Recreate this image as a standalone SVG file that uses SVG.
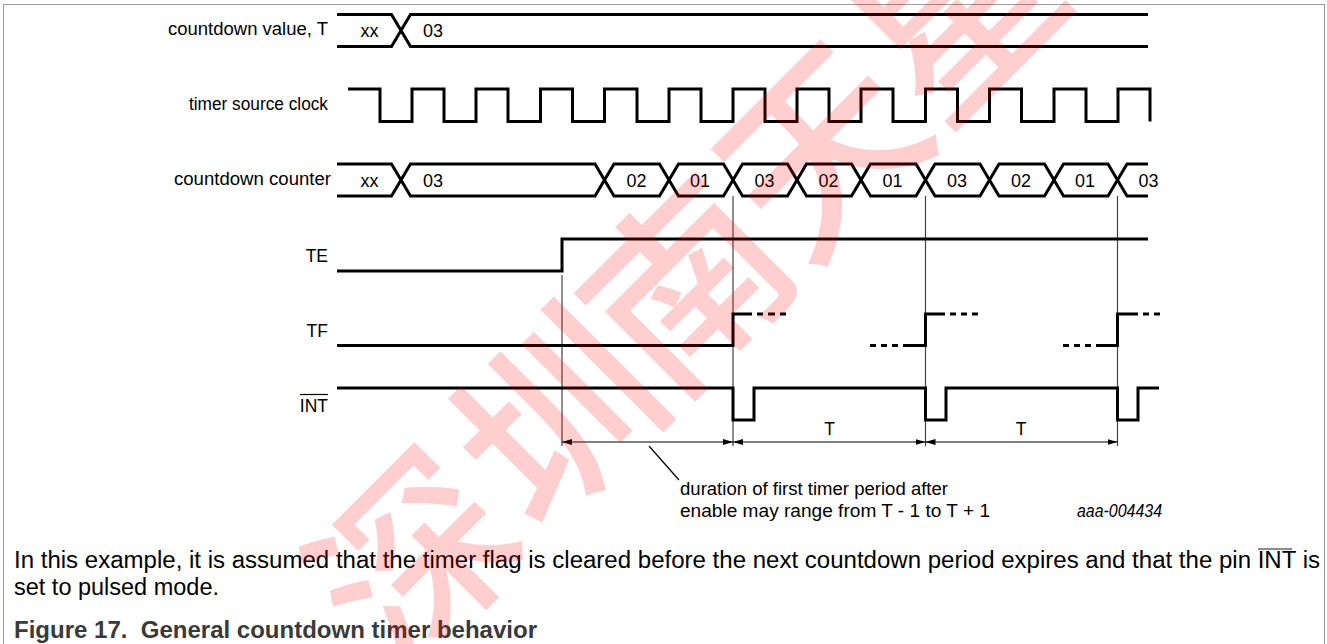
<svg xmlns="http://www.w3.org/2000/svg" width="1327" height="644" viewBox="0 0 1327 644">
<style>
.sig{fill:none;stroke:#000;stroke-width:3;stroke-linejoin:miter;stroke-linecap:butt}
.thin{fill:none;stroke:#444;stroke-width:1.2}
.lbl{font-family:"Liberation Sans",Arial,sans-serif;font-size:17.5px;fill:#000}
.bus{font-family:"Liberation Sans",Arial,sans-serif;font-size:18px;fill:#000;text-anchor:middle}
.cap{font-family:"Liberation Sans",Arial,sans-serif;font-size:23.5px;fill:#000}
.fig{font-family:"Liberation Sans",Arial,sans-serif;font-size:23.5px;font-weight:bold;fill:#3a3a3a}
.wm{font-family:"Noto Sans CJK SC",sans-serif;font-weight:500;font-size:195px;fill:#ff0000;fill-opacity:0.19;text-anchor:middle;dominant-baseline:central}
</style>
<defs>
<marker id="ah" viewBox="0 0 10 6" refX="10" refY="3" markerWidth="10" markerHeight="6" markerUnits="userSpaceOnUse" orient="auto-start-reverse">
<path d="M0,0 L10,3 L0,6 Z" fill="#000"/>
</marker>
</defs>
<rect x="3.5" y="4.5" width="1321" height="700" fill="none" stroke="#9a9a9a" stroke-width="1"/>

<g id="labels">
<text class="lbl" x="328" y="35" text-anchor="end" textLength="160" lengthAdjust="spacingAndGlyphs">countdown value, T</text>
<text class="lbl" x="328" y="110" text-anchor="end" textLength="139" lengthAdjust="spacingAndGlyphs">timer source clock</text>
<text class="lbl" x="331" y="185" text-anchor="end" textLength="157" lengthAdjust="spacingAndGlyphs">countdown counter</text>
<text class="lbl" x="328" y="262" text-anchor="end">TE</text>
<text class="lbl" x="328" y="337" text-anchor="end">TF</text>
<text class="lbl" x="328" y="411.5" text-anchor="end">INT</text>
<line x1="300" y1="394.5" x2="328" y2="394.5" stroke="#000" stroke-width="1.2"/>
</g>

<g id="countdown-value">
<path class="sig" d="M337,14.5 H391.5 L410.5,46.5 H1148 M337,46.5 H391.5 L410.5,14.5 H1148"/>
<text class="bus" x="369.5" y="37">xx</text>
<text class="bus" x="433" y="37">03</text>
</g>

<g id="clock">
<path class="sig" d="M348,89 H380 V121.5 H412 V89 H444 V121.5 H476 V89 H508 V121.5 H540.5 V89 H572.5 V121.5 H604.5 V89 H637 V121.5 H669 V89 H701 V121.5 H733 V89 H765 V121.5 H797 V89 H829 V121.5 H861 V89 H893 V121.5 H925.5 V89 H957.5 V121.5 H989.5 V89 H1021.5 V121.5 H1054 V89 H1086 V121.5 H1118 V89 H1150 V121.5"/>
</g>

<g id="connectors">
<line class="thin" x1="562" y1="275" x2="562" y2="446"/>
<line class="thin" x1="733" y1="196" x2="733" y2="446"/>
<line class="thin" x1="925.5" y1="196" x2="925.5" y2="446"/>
<line class="thin" x1="1117.5" y1="196" x2="1117.5" y2="446"/>
<line x1="562" y1="442" x2="733" y2="442" stroke="#000" stroke-width="1.2" marker-start="url(#ah)" marker-end="url(#ah)"/>
<line x1="733" y1="442" x2="925.5" y2="442" stroke="#000" stroke-width="1.2" marker-start="url(#ah)" marker-end="url(#ah)"/>
<line x1="925.5" y1="442" x2="1117.5" y2="442" stroke="#000" stroke-width="1.2" marker-start="url(#ah)" marker-end="url(#ah)"/>
<line x1="649" y1="446" x2="679" y2="480" stroke="#000" stroke-width="1.2"/>
</g>

<g id="counter">
<path class="sig" d="M337,164 H391.5 L401,180 L391.5,196 H337"/>
<path class="sig" d="M401,180 L410.5,164 H595 L604.5,180 L595,196 H410.5 Z"/>
<path class="sig" d="M604.5,180 L614,164 H659.5 L669,180 L659.5,196 H614 Z"/>
<path class="sig" d="M669,180 L678.5,164 H723.5 L733,180 L723.5,196 H678.5 Z"/>
<path class="sig" d="M733,180 L742.5,164 H787.5 L797,180 L787.5,196 H742.5 Z"/>
<path class="sig" d="M797,180 L806.5,164 H851.5 L861,180 L851.5,196 H806.5 Z"/>
<path class="sig" d="M861,180 L870.5,164 H916 L925.5,180 L916,196 H870.5 Z"/>
<path class="sig" d="M925.5,180 L935,164 H980 L989.5,180 L980,196 H935 Z"/>
<path class="sig" d="M989.5,180 L999,164 H1044.5 L1054,180 L1044.5,196 H999 Z"/>
<path class="sig" d="M1054,180 L1063.5,164 H1108 L1117.5,180 L1108,196 H1063.5 Z"/>
<path class="sig" d="M1148,164 H1127 L1117.5,180 L1127,196 H1148"/>
<text class="bus" x="369.5" y="186.5">xx</text>
<text class="bus" x="433" y="186.5">03</text>
<text class="bus" x="636.5" y="186.5">02</text>
<text class="bus" x="700" y="186.5">01</text>
<text class="bus" x="764.5" y="186.5">03</text>
<text class="bus" x="828.5" y="186.5">02</text>
<text class="bus" x="892.5" y="186.5">01</text>
<text class="bus" x="957" y="186.5">03</text>
<text class="bus" x="1021" y="186.5">02</text>
<text class="bus" x="1085" y="186.5">01</text>
<text class="bus" x="1148.5" y="186.5">03</text>
</g>

<g id="TE">
<path class="sig" d="M337,271 H562 V239 H1148"/>
</g>

<g id="TF">
<path class="sig" d="M337,345.5 H733 V314 H752 M757,314 h6 M768,314 h7 M780,314 h6"/>
<path class="sig" d="M870,345.5 h6 M881,345.5 h6 M892,345.5 h6 M903,345.5 H925.5 V314 H945 M950,314 h6 M961,314 h6 M972,314 h6"/>
<path class="sig" d="M1063,345.5 h6 M1074,345.5 h6 M1085,345.5 h6 M1096,345.5 H1117.5 V314 H1138 M1143,314 h6 M1154,314 h6"/>
</g>

<g id="INT">
<path class="sig" d="M337,388 H733 V420 H754 V388 H925.5 V420 H946 V388 H1117.5 V420 H1138 V388 H1159"/>
</g>

<g id="annotations">
<text class="lbl" x="829.5" y="435" text-anchor="middle">T</text>
<text class="lbl" x="1021" y="435" text-anchor="middle">T</text>
<text class="lbl" x="680" y="495" textLength="268" lengthAdjust="spacingAndGlyphs">duration of first timer period after</text>
<text class="lbl" x="680" y="517" textLength="310" lengthAdjust="spacingAndGlyphs">enable may range from T - 1 to T + 1</text>
<text class="lbl" x="1077" y="517" font-style="italic" font-size="15" textLength="85" lengthAdjust="spacingAndGlyphs">aaa-004434</text>
</g>

<g id="caption">
<text class="cap" x="14" y="568" textLength="1306" lengthAdjust="spacingAndGlyphs">In this example, it is assumed that the timer flag is cleared before the next countdown period expires and that the pin INT is</text>
<line x1="1258" y1="549" x2="1292" y2="549" stroke="#666" stroke-width="1.3"/>
<text class="cap" x="14" y="595" textLength="205" lengthAdjust="spacingAndGlyphs">set to pulsed mode.</text>
<text class="fig" x="14" y="638" textLength="523" lengthAdjust="spacingAndGlyphs">Figure 17.&#160; General countdown timer behavior</text>
</g>

<g id="watermark">
<text class="wm" transform="translate(405,550) rotate(-45)">深</text>
<text class="wm" transform="translate(548,408) rotate(-45)">圳</text>
<text class="wm" transform="translate(678,276) rotate(-45)">南</text>
<text class="wm" transform="translate(812,140) rotate(-45)">天</text>
<text class="wm" transform="translate(948,4) rotate(-45)">星</text>
</g>
</svg>
